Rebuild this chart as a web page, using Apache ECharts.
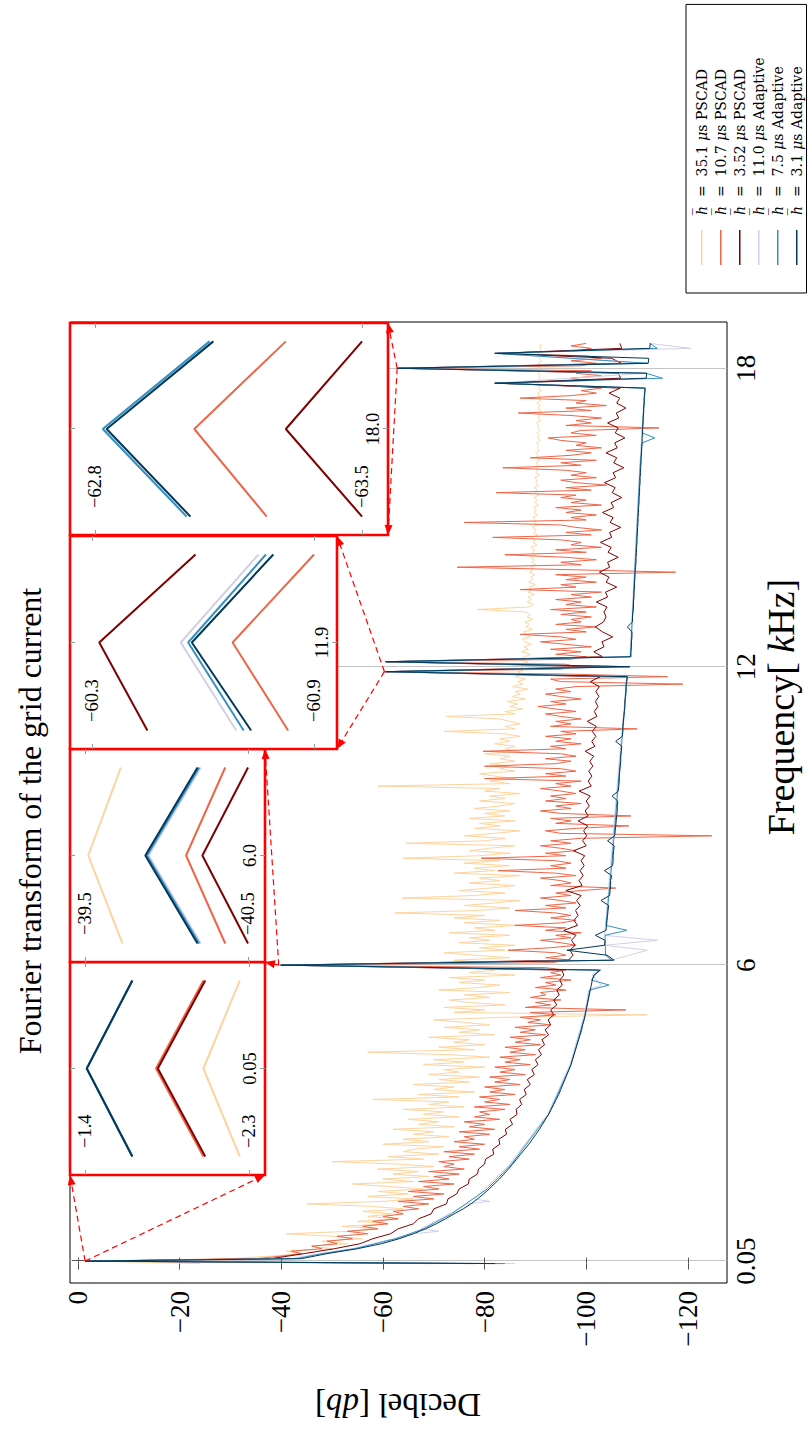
<!DOCTYPE html>
<html><head><meta charset="utf-8">
<script src="https://cdn.jsdelivr.net/npm/echarts@6/dist/echarts.min.js"></script>
<style>
html,body{margin:0;padding:0;background:#fff;overflow:hidden;width:810px;height:1431px}
#wrap{position:absolute;left:0;top:0;width:1431px;height:810px;transform-origin:0 0;transform:translate(0,1431px) rotate(-90deg);}
#chart{width:1431px;height:810px}
</style></head><body><div id="wrap"><div id="chart"></div></div>
<script>
// ---------------- DATA ----------------
const seriesNames = ['35.1 PSCAD','10.7 PSCAD','3.52 PSCAD','11.0 Adaptive','7.5 Adaptive','3.1 Adaptive'];
const legendLabels = ['{i|h\u0305}  =  35.1 {i|\u03bc}s PSCAD','{i|h\u0305}  =  10.7 {i|\u03bc}s PSCAD','{i|h\u0305}  =  3.52 {i|\u03bc}s PSCAD',
  '{i|h\u0305}  =  11.0 {i|\u03bc}s Adaptive','{i|h\u0305}  =  7.5 {i|\u03bc}s Adaptive','{i|h\u0305}  =  3.1 {i|\u03bc}s Adaptive'];
const colors = ['#fdd49e','#ef6548','#7f0000','#d0d1e6','#3690c0','#023858'];

// fine frequency grid (kHz) 0, 0.05 ... 18.5 for the two noisy PSCAD traces
const freqFine = [];
for (let k = 0; k <= 370; k++) freqFine.push(+(k * 0.05).toFixed(2));
// coarse grid 0, 0.05, 0.1 ... 18.5 for the smoother traces
const freq = [0, 0.05];
for (let k = 1; k <= 185; k++) freq.push(+(k / 10).toFixed(1));

const db351 = [-24,
 -2.05,-30,-38,-44,-41,-50,-46,-53,-48,-56,-50,-41,-54,-59,-52,-61,-55,-63,-57,-62,
 -56,-64,-58,-45,-60,-66,-57,-65,-59,-68,-61,-54,-66,-60,-69,-62,-67,-59,-70,-63,
 -50,-68,-61,-71,-64,-66,-72,-60,-69,-64,-73,-66,-70,-62,-74,-67,-71,-65,-75,-68,
 -72,-64,-76,-69,-73,-58,-75,-67,-78,-70,-74,-66,-77,-71,-79,-69,-75,-72,-80,-68,
 -76,-70,-81,-73,-57,-78,-71,-80,-74,-77,-69,-82,-75,-79,-72,-81,-76,-70,-83,-112,
 -74,-80,-72,-84,-77,-73,-81,-76,-85,-71,-79,-83,-75,-80,-73,-86,-77,-82,-76,-39.52,
 -80,-74,-85,-78,-72,-84,-79,-86,-75,-81,-77,-85,-73,-82,-78,-87,-76,-83,-74,-80,
 -62.4,-79,-85,-76,-82,-87,-63.8,-78,-84,-75,-81,-86,-77,-83,-79,-87,-74,-82,-78,-85,
 -76,-83,-64,-79,-85,-77,-81,-86,-64.6,-80,-84,-76,-82,-87,-78,-83,-79,-86,-77,-84,
 -80,-85,-78,-83,-86,-79,-84,-81,-87,-80,-83,-59,-85,-81,-86,-82,-79,-86,-83,-85,
 -81,-86,-83,-85,-80,-87,-84,-86,-82,-85,-83,-87,-84,-72,-86,-84,-87,-85,-83,-72.5,
 -86,-84,-87.5,-85,-86.5,-84.5,-88,-85.5,-87,-86,-88.5,-85.5,-87.5,-86.5,-88,-86,-87.5,-86.5,-88,-87,
 -87.5,-88.5,-86.8,-88,-89,-87.3,-88.6,-87.8,-89.2,-88,-87.4,-89,-88.3,-87.6,-89.4,-88.1,-88.8,-87.9,-89.5,-88.4,
 -89,-88.2,-78.6,-88.7,-89.6,-88.4,-89.2,-88.6,-89.8,-88.5,-89.3,-88.9,-90,-88.7,-89.5,-89,-89.9,-88.8,-89.6,-89.1,
 -90.1,-89.2,-89.8,-88.9,-90.2,-89.4,-89.9,-89.1,-90.3,-89.5,-90,-89.3,-90.4,-89.6,-90.1,-89.4,-90.5,-89.7,-90,-89.5,
 -90.4,-89.7,-90.2,-89.6,-90.6,-89.9,-90.3,-89.7,-90.7,-90,-90.4,-89.8,-90.6,-90.1,-90.3,-89.9,-90.8,-90.1,-90.5,-90,
 -90.6,-90.1,-90.9,-90.2,-90.5,-90,-90.8,-90.3,-90.6,-90.2,-91,-90.4,-90.7,-90.3,-90.9,-90.4,-90.6,-90.2,-91,-90.5,
 -90.8,-90.4,-91.1,-90.5,-90.9,-90.3,-91,-90.6,-90.8,-90.4,-91.2,-90.6,-90.9,-90.5,-91.1,-90.7,-90.9,-90.5,-91.2,-90.6,
 -91,-90.6,-91.2,-90.7,-91,-90.6,-91.3,-90.8,-91.1,-90.9];

const db107 = [-70,
 -1.79,-35,-40,-44,-42,-48,-46,-51,-49,-54,-51,-57,-53,-59,-56,-61,-58,-63,-60,-64,
 -62,-67,-64,-69,-63,-70,-66,-72,-65,-71,-68,-74,-67,-73,-70,-75,-69,-76,-72,-74,
 -71,-77,-73,-78,-72,-79,-75,-80,-74,-78,-76,-81,-75,-82,-77,-80,-76,-83,-78,-81,
 -79,-84,-78,-85,-80,-83,-79,-86,-81,-84,-80,-87,-82,-85,-81,-88,-83,-86,-82,-89,
 -84,-87,-83,-90,-85,-88,-84,-91,-86,-89,-85,-92,-87,-90,-86,-93,-88.5,-91,-87,-94,
 -89,-107.8,-88,-93,-90,-95,-89,-92,-91,-96,-90,-94,-92,-97,-91,-95,-93,-96,-92,-40.12,
 -93,-97,-92,-96,-94,-84.6,-93,-98,-95,-91,-97,-94,-99,-92,-96,-86,-95,-98,-93,-97,
 -94,-86,-96,-92,-98,-95,-91,-97,-94,-99,-105.8,-93,-97,-95,-91,-98,-94,-82.6,-96,-93,
 -97,-94,-79.3,-96,-92,-98,-95,-91,-97,-93,-99,-124.7,-95,-92,-98,-108.4,-94,-97,-93,-108.8,
 -95,-91,-97,-94,-99,-92,-96,-93,-98,-95,-91,-97,-94,-99,-80,-96,-92,-98,-95,-80,
 -94,-97,-92,-98,-95,-79.7,-96,-93,-99,-94,-97,-92,-98,-95,-110,-93,-97,-94,-99,-95,
 -92,-98,-94,-90.5,-96,-93,-99,-95,-92,-97,-94,-98,-119,-95,-93,-116,-97,-60.68,-95,-98,
 -96,-60.85,-97,-100,-94,-99,-93,-101,-96,-91,-98,-95,-87,-100,-96,-102,-94,-99,-97,-101,
 -95,-100,-93,-102,-96,-99,-94,-101,-97,-103,-87,-98,-95,-102,-96,-100,-94,-117.6,-97,-74.6,
 -99,-95,-102,-96,-84,-100,-94,-103,-97,-99,-95,-81.6,-101,-96,-103,-98,-95,-76,-100,-97,
 -102,-96,-99,-94,-103,-97,-100,-95,-98,-82.3,-101,-96,-104,-98,-95,-102,-97,-100,-96,-83.6,
 -99,-95,-102,-89,-97,-101,-96,-103,-98,-100,-95,-92.5,-102,-97,-99,-114.3,-96,-101,-98,-103,
 -97,-86.6,-101,-96,-104,-98,-100,-87,-97,-102,-99,-103,-96,-82.3,-100,-97,-103,-98,-101,-63.06,
 -99,-102,-97,-103,-100,-82.4,-98,-101,-97,-100];

const db352 = [-78, -1.80,
 -38,-44.5,-50.5,-55.5,-58,-61.5,-63,-66,-67,-69.5,
 -70,-72.5,-72.8,-74.5,-75,-76.8,-77,-78.6,-78.8,-80,
 -80.2,-81.8,-81.6,-83,-82.8,-84.3,-84.1,-85.5,-85,-86.4,
 -86.2,-87.3,-86.9,-88.2,-87.8,-89,-88.4,-89.8,-89.3,-90.5,
 -90,-91.2,-90.6,-91.8,-91.3,-92.6,-91.9,-93,-92.5,-93.6,
 -93,-94.2,-93.6,-94.7,-94.2,-95.3,-94.8,-95.6,-95.2,-40.22,
 -96.5,-97.4,-96.8,-97.8,-97.1,-98,-95.6,-98.3,-97.6,-98.4,
 -97.9,-98.8,-98.1,-99,-96,-99.2,-98.6,-99.4,-98.8,-99.6,
 -99,-99.7,-97.5,-100,-99.3,-100.1,-99.5,-100.3,-98.4,-100.4,
 -99.8,-100.6,-100,-100.8,-98.6,-101,-100.4,-101.1,-100.5,-101.3,
 -100.7,-101.5,-99.8,-101.7,-101.1,-101.9,-101.2,-102,-100.2,-102.1,
 -101.6,-102.3,-101.8,-102.5,-101.9,-102.6,-100.8,-102.8,-60.32,-102.8,
 -60.45,-103.2,-101.5,-103.5,-103.1,-105.2,-103.2,-101.8,-103.4,-103.9,
 -103.5,-104.1,-102,-104.2,-103.8,-106,-103.9,-104.5,-102.6,-104.6,
 -104.2,-106.3,-104.3,-104.9,-102.8,-105,-104.6,-106.8,-104.7,-105.3,
 -103.2,-105.4,-104.9,-107,-105.1,-105.7,-103.6,-105.8,-105.3,-107.4,
 -105.4,-106,-103.9,-106.1,-105.6,-107.6,-105.7,-106.3,-104.2,-106.4,
 -105.9,-107.8,-106,-106.6,-104.5,-106.7,-82.5,-106.8,-106.3,-63.3,
 -106.9,-105,-82.5,-107,-106.6];

const db31 = [-82, -1.41,
 -44,-49,-55,-59.7,-63.2,-66,-68.4,-70.5,-72.3,-74,
 -75.8,-77.3,-78.6,-79.8,-80.9,-81.9,-82.9,-83.8,-84.7,-85.5,
 -86.3,-87.1,-87.9,-88.7,-89.4,-90.1,-90.8,-91.4,-92,-92.6,
 -93.1,-93.6,-94.1,-94.6,-95,-95.4,-95.8,-96.2,-96.6,-97,
 -97.3,-97.6,-97.9,-98.2,-98.5,-98.8,-99.1,-99.3,-99.6,-99.8,
 -100,-100.2,-100.4,-100.6,-100.8,-101,-101.2,-101.5,-102.8,-39.87,
 -105.5,-104.1,-96.2,-103.6,-103.7,-101.8,-103.9,-104,-104.1,-104.2,
 -104.3,-104.4,-102.9,-104.6,-104.7,-104.8,-104.8,-105,-103.6,-105.2,
 -105.3,-105.3,-105.4,-105.5,-104.2,-105.6,-105.7,-105.8,-105.9,-106,
 -106.1,-106.1,-106.2,-105.1,-106.3,-106.4,-106.5,-106.5,-106.6,-106.7,
 -106.8,-106.8,-106.9,-107,-105.8,-107.1,-107.2,-107.2,-107.3,-107.4,
 -107.5,-107.6,-107.6,-107.7,-107.8,-107.8,-107.9,-108.1,-60.57,-108.6,
 -60.7,-108.8,-108.8,-108.9,-108.9,-109,-109,-108.1,-109.1,-109.1,
 -109.2,-109.3,-109.3,-109.4,-109.4,-109.5,-109.5,-109.6,-109.6,-109.7,
 -109.8,-109.8,-109.9,-109.9,-110,-110,-110.1,-110.1,-110.2,-110.2,
 -110.3,-110.3,-110.4,-110.4,-110.5,-110.5,-110.6,-110.6,-110.7,-110.7,
 -110.8,-110.8,-110.9,-110.9,-111,-111,-111.1,-111.1,-111.2,-111.2,
 -111.3,-111.3,-111.4,-111.4,-111.5,-111.6,-82,-111.8,-111.9,-62.83,
 -112.2,-112.3,-82,-112.5,-112.6];

// sparser adaptive traces: [kHz, dB]
const pts110 = [[0,-86],[0.05,-1.4],[0.1,-42],[0.2,-47.5],[0.3,-54],[0.4,-58],[0.5,-62],[0.6,-66],[0.65,-71],[0.7,-67.5],
 [1.0,-73],[1.2,-76.5],[1.25,-81],[1.3,-78],[2.0,-85],[3.0,-92.4],[4.0,-96.8],[5.0,-99.6],[5.5,-100.5],[5.6,-103],
 [5.8,-101.2],[5.9,-102.2],[6.0,-39.88],[6.1,-105],[6.3,-112],[6.4,-103.6],[6.5,-114],[6.6,-103.6],[8,-104.8],
 [10,-106.4],[11.8,-108],[11.9,-60.54],[12.0,-108.4],[12.1,-60.68],[12.2,-108.6],[14,-109.5],[16,-110.5],
 [17.6,-111.5],[17.7,-82],[17.9,-111.7],[18.0,-62.82],[18.1,-112],[18.3,-82],[18.4,-120.6],[18.5,-112.4]];
const pts75 = [[0,-84],[0.05,-1.4],[0.1,-43],[0.2,-48],[0.3,-54.5],[0.5,-62.5],[0.7,-68],[1.0,-73.5],[1.5,-80.5],
 [2.0,-85.3],[3.0,-92.6],[4.0,-97],[5.0,-99.8],[5.5,-100.7],[5.6,-104.5],[5.7,-101],[5.9,-102.5],[6.0,-39.9],
 [6.1,-105],[6.2,-103.8],[6.6,-103.7],[6.7,-108],[6.8,-103.9],[8,-105],[10,-106.6],[11.8,-108.1],[11.9,-60.56],
 [12.0,-108.5],[12.1,-60.7],[12.2,-108.7],[14,-109.6],[16,-110.6],[16.5,-111],[16.6,-113.5],[16.7,-111],
 [17.6,-111.6],[17.7,-82],[17.8,-115],[17.9,-111.8],[18.0,-62.82],[18.1,-112.1],[18.3,-82],[18.4,-114],[18.5,-112.5]];

// main axis ticks
const freqTicks = [0.05, 6, 12, 18];
const freqTickLabels = ['0.05', '6', '12', '18'];
const dbTicks = [0, -20, -40, -60, -80, -100, -120];

// insets
const insetCenters = [0.05, 6.0, 11.9, 18.0];
const insetFreqLabels = ['0.05', '6.0', '11.9', '18.0'];
const insetDbTicks = [[-1.4, -2.3], [-39.5, -40.5], [-60.3, -60.9], [-62.8, -63.5]];
const insetDbRange = [[-2.388, -1.318], [-40.604, -39.408], [-60.962, -60.241], [-63.568, -62.734]];
const insetDf = 0.01;
// [lower bin, peak, upper bin] per inset (null = not in view)
const inset351 = [[-2.25,-2.05,-2.25],[-39.73,-39.52,-39.72],null,null];
const inset107 = [[-2.05,-1.79,-2.05],[-40.36,-40.12,-40.36],[-60.83,-60.68,-60.90],[-63.25,-63.06,-63.30]];
const inset352 = [[-2.06,-1.80,-2.06],[-40.5,-40.22,-40.5],[-60.45,-60.32,-60.58],[-63.5,-63.3,-63.5]];
const inset110 = [[-1.66,-1.41,-1.66],[-40.21,-39.89,-40.21],[-60.69,-60.54,-60.75],[-63.04,-62.82,-63.10]];
const inset75  = [[-1.66,-1.41,-1.66],[-40.2,-39.88,-40.2],[-60.71,-60.56,-60.77],[-63.04,-62.82,-63.10]];
const inset31  = [[-1.66,-1.41,-1.66],[-40.19,-39.87,-40.19],[-60.73,-60.57,-60.79],[-63.05,-62.83,-63.11]];

// ---------------- LAYOUT (landscape canvas, rotated by CSS) ----------------
const FONT = 'Liberation Serif';
const LFONT = 'DejaVu Serif';
const mainGrid = {left: 148, right: 322, top: 70, bottom: 83};
const insetBoxes = [
  {left: 256, top: 70, width: 213, height: 195},
  {left: 469, top: 70, width: 213, height: 195},
  {left: 682, top: 70, width: 213, height: 267},
  {left: 896, top: 70, width: 212, height: 318}];
const minus = v => (v < 0 ? '\u2212' : '') + Math.abs(v);

const chart = echarts.init(document.getElementById('chart'), null, {renderer: 'svg', width: 1431, height: 810});

const grids = [Object.assign({show: true, borderColor: '#000', borderWidth: 1, backgroundColor: 'transparent', z: 0}, mainGrid)];
insetBoxes.forEach(b => grids.push(Object.assign({show: true, borderColor: '#ff0000', borderWidth: 2.6, backgroundColor: '#fff', z: 10}, b)));

const xAxes = [
  {gridIndex: 0, type: 'value', min: -0.39, max: 18.93, position: 'bottom', axisLine: {show: false},
   splitLine: {show: true, lineStyle: {color: '#c4c4c4', width: 1}},
   axisTick: {show: true, inside: true, length: 6, customValues: freqTicks, lineStyle: {color: '#555'}},
   axisLabel: {customValues: freqTicks, margin: 5, color: '#000', fontFamily: FONT, fontSize: 27,
     formatter: v => freqTickLabels[freqTicks.indexOf(v)] ?? String(v)}},
  {gridIndex: 0, type: 'value', min: -0.39, max: 18.93, position: 'top', axisLine: {show: false}, splitLine: {show: false},
   axisTick: {show: true, inside: true, length: 6, customValues: freqTicks, lineStyle: {color: '#555'}},
   axisLabel: {show: false}}];
const yAxes = [
  {gridIndex: 0, type: 'value', min: -127.7, max: 1.57, position: 'left', axisLine: {show: false}, splitLine: {show: false},
   axisTick: {show: true, inside: true, length: 6, customValues: dbTicks, lineStyle: {color: '#555'}},
   axisLabel: {customValues: dbTicks, margin: 8, color: '#000', fontFamily: FONT, fontSize: 27, formatter: minus}},
  {gridIndex: 0, type: 'value', min: -127.7, max: 1.57, position: 'right', axisLine: {show: false}, splitLine: {show: false},
   axisTick: {show: true, inside: true, length: 6, customValues: dbTicks, lineStyle: {color: '#555'}},
   axisLabel: {show: false}}];

const insetXRange = k => [insetCenters[k] - 1.21 * insetDf, insetCenters[k] + 1.21 * insetDf];
insetCenters.forEach((f0, k) => {
  const gi = k + 1, xr = insetXRange(k), yr = insetDbRange[k];
  const tickStyle = {show: true, inside: true, length: 5, lineStyle: {color: '#9a9a9a'}};
  xAxes.push({gridIndex: gi, type: 'value', min: xr[0], max: xr[1], position: 'bottom', z: 11,
    axisLine: {show: false}, splitLine: {show: false},
    axisTick: Object.assign({customValues: [f0]}, tickStyle),
    axisLabel: {customValues: [f0], inside: true, margin: 6, color: '#000', fontFamily: FONT, fontSize: 18.5,
      formatter: () => insetFreqLabels[k]}});
  xAxes.push({gridIndex: gi, type: 'value', min: xr[0], max: xr[1], position: 'top', z: 11,
    axisLine: {show: false}, splitLine: {show: false}, axisTick: Object.assign({customValues: [f0]}, tickStyle), axisLabel: {show: false}});
  yAxes.push({gridIndex: gi, type: 'value', min: yr[0], max: yr[1], position: 'left', z: 11,
    axisLine: {show: false}, splitLine: {show: false},
    axisTick: Object.assign({customValues: insetDbTicks[k]}, tickStyle),
    axisLabel: {customValues: insetDbTicks[k], inside: true, margin: 27, color: '#000', fontFamily: FONT, fontSize: 18.5,
      formatter: v => minus(+v.toFixed(1))}});
  yAxes.push({gridIndex: gi, type: 'value', min: yr[0], max: yr[1], position: 'right', z: 11,
    axisLine: {show: false}, splitLine: {show: false}, axisTick: Object.assign({customValues: insetDbTicks[k]}, tickStyle), axisLabel: {show: false}});
});

const mainData = [
  freqFine.map((f, i) => [f, db351[i]]),
  freqFine.map((f, i) => [f, db107[i]]),
  freq.map((f, i) => [f, db352[i]]),
  pts110, pts75,
  freq.map((f, i) => [f, db31[i]])];
const insetData = [inset351, inset107, inset352, inset110, inset75, inset31];

const series = [];
seriesNames.forEach((name, s) => {
  series.push({name, type: 'line', xAxisIndex: 0, yAxisIndex: 0, data: mainData[s], showSymbol: false, symbol: 'none',
    color: colors[s], lineStyle: {color: colors[s], width: 1}, z: 2, animation: false});
});
seriesNames.forEach((name, s) => {
  insetCenters.forEach((f0, k) => {
    const v = insetData[s][k];
    if (!v) return;
    series.push({name: 'inset ' + k + ' ' + name, type: 'line', xAxisIndex: 2 + 2 * k, yAxisIndex: 2 + 2 * k,
      data: [[f0 - insetDf, v[0]], [f0, v[1]], [f0 + insetDf, v[2]]], showSymbol: false, symbol: 'none',
      color: colors[s], lineStyle: {color: colors[s], width: 2}, z: 12, animation: false});
  });
});

const txt = (text, x, y, size, rot, rich) => ({type: 'text', x, y, rotation: rot || 0, z: 30,
  style: {text, fill: '#000', fontFamily: FONT, fontSize: size, align: 'center', verticalAlign: 'middle',
    rich: rich || {}}});
const richI = (size, lh, fam) => ({i: {fontStyle: 'italic', fontFamily: fam || FONT, fontSize: size, lineHeight: lh, fill: '#000'}});

const option = {
  animation: false,
  backgroundColor: '#fff',
  grid: grids, xAxis: xAxes, yAxis: yAxes, series,
  legend: {data: seriesNames, orient: 'vertical', left: 1138, top: 686, height: 400, padding: [8, 53, 2, 28], itemGap: 3.5,
    itemWidth: 35, itemHeight: 1.5, icon: 'rect', borderColor: '#000', borderWidth: 1, backgroundColor: '#fff',
    selectedMode: false,
    formatter: name => legendLabels[seriesNames.indexOf(name)],
    textStyle: {fontFamily: LFONT, fontSize: 14, lineHeight: 15.5, color: '#000', padding: [0, 0, 0, 10], rich: richI(14, 15.5, LFONT)}},
  graphic: [
    txt('Fourier transform of the grid current', 610, 30, 32),
    txt('Frequency[ {i|k}Hz]', 724, 781, 38, 0, richI(38)),
    txt('Decibel [{i|db}]', 26, 398, 33, Math.PI / 2, richI(33))]
};
chart.setOption(option);

// dashed connectors from the magnified spot to the inset box corners
const conn = [];
insetCenters.forEach((f0, k) => {
  const spot = chart.convertToPixel({xAxisIndex: 0, yAxisIndex: 0}, [f0, insetDbTicks[k][0]]);
  const ai = 2 + 2 * k, xr = insetXRange(k), yr = insetDbRange[k];
  const cv = p => chart.convertToPixel({xAxisIndex: ai, yAxisIndex: ai}, p);
  const corners = k === 0 ? [cv([xr[0], yr[1]]), cv([xr[0], yr[0]])] : [cv([xr[0], yr[0]]), cv([xr[1], yr[0]])];
  corners.forEach(c => {
    conn.push({type: 'line', z: 40, shape: {x1: spot[0], y1: spot[1], x2: c[0], y2: c[1]},
      style: {stroke: '#ff0000', lineWidth: 1.2, lineDash: [6, 4]}});
    const dx = c[0] - spot[0], dy = c[1] - spot[1], L = Math.hypot(dx, dy) || 1;
    const ux = dx / L, uy = dy / L, bx = c[0] - ux * 10, by = c[1] - uy * 10;
    conn.push({type: 'polygon', z: 40, shape: {points: [[c[0], c[1]], [bx - uy * 4, by + ux * 4], [bx + uy * 4, by - ux * 4]]},
      style: {fill: '#ff0000'}});
  });
});
chart.setOption({graphic: option.graphic.concat(conn)});
</script></body></html>
